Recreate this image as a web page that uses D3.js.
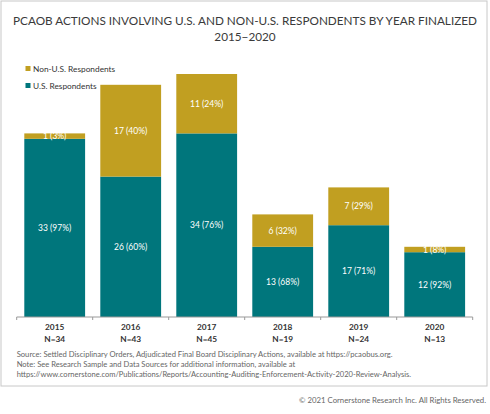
<!DOCTYPE html>
<html><head><meta charset="utf-8">
<script src="https://cdn.jsdelivr.net/npm/d3@7"></script>
<style>
html,body{margin:0;padding:0;background:#fff;}
svg{display:block;font-family:Lato,"Open Sans",sans-serif;}
</style></head>
<body>
<svg id="c" width="490" height="414"></svg>
<script>
const years = ["2015","2016","2017","2018","2019","2020"];
const totals = [34,43,45,19,24,13];
const usValues = [33,26,34,13,17,12];
const nonUsValues = [1,17,11,6,7,1];
const usPct = [97,60,76,68,71,92];
const nonUsPct = [3,40,24,32,29,8];
const seriesNames = ["Non-U.S. Respondents","U.S. Respondents"];
const colors = {us:"#00767C", nonUs:"#C19F21"};
const titleLines = ["PCAOB ACTIONS INVOLVING U.S. AND NON-U.S. RESPONDENTS BY YEAR FINALIZED","2015\u22122020"];
const sourceLines = [
 "Source: Settled Disciplinary Orders, Adjudicated Final Board Disciplinary Actions, available at https://pcaobus.org.",
 "Note: See Research Sample and Data Sources for additional information, available at",
 "https://www.cornerstone.com/Publications/Reports/Accounting-Auditing-Enforcement-Activity-2020-Review-Analysis."
];
const copyright = "\u00A9 2021 Cornerstone Research Inc. All Rights Reserved.";

const svg = d3.select("#c");
const data = years.map((y,i)=>({year:y,total:totals[i],us:usValues[i],nonUs:nonUsValues[i],usPct:usPct[i],nonUsPct:nonUsPct[i]}));

// frame
svg.append("rect").attr("x",1).attr("y",1).attr("width",486).attr("height",385)
  .attr("fill","none").attr("stroke","#c8c8c8").attr("stroke-width",1);

function fit(sel, w){ let fs; sel.each(function(){ const l=this.getComputedTextLength(); fs=+d3.select(this).attr("font-size")*w/l; d3.select(this).attr("font-size", fs);}); return fs; }

// title
const t1 = svg.append("text").attr("x",245).attr("y",25).attr("text-anchor","middle")
  .attr("font-size",14).attr("font-weight",400).attr("fill","#3a3a3a").text(titleLines[0]);
const tfs = fit(t1,464);
svg.append("text").attr("x",245).attr("y",41).attr("text-anchor","middle")
  .attr("font-size",tfs).attr("font-weight",400).attr("fill","#3a3a3a").text(titleLines[1]);

const x = d3.scaleBand().domain(years).range([16.7,472.7]).paddingInner(0.2).paddingOuter(0.1);
const y = d3.scaleLinear().domain([0,50]).range([317,47]);

const stack = d3.stack().keys(["us","nonUs"])(data);
const g = svg.append("g");
stack.forEach(layer=>{
  g.selectAll(null).data(layer).join("rect")
    .attr("x",d=>x(d.data.year)).attr("width",x.bandwidth())
    .attr("y",d=>y(d[1])).attr("height",d=>y(d[0])-y(d[1]))
    .attr("fill",layer.key==="us"?colors.us:colors.nonUs);
  g.selectAll(null).data(layer).join("text")
    .attr("x",d=>x(d.data.year)+x.bandwidth()/2)
    .attr("y",d=>(y(d[0])+y(d[1]))/2+3)
    .attr("text-anchor","middle").attr("font-size",8.5).attr("fill","#fff")
    .text(d=>layer.key==="us"? `${d.data.us} (${d.data.usPct}%)` : `${d.data.nonUs} (${d.data.nonUsPct}%)`);
});

// axis
const ax = svg.append("g").attr("transform","translate(0,317)")
  .call(d3.axisBottom(x).tickSize(0).tickFormat(""));
ax.select(".domain").attr("stroke","#999").attr("d","M16.7,0H472.7");
const edges = [0,1,2,3,4,5,6].map(i=>16.7+i*x.step());
ax.selectAll(".edge").data(edges).join("line").attr("class","edge")
  .attr("x1",d=>d).attr("x2",d=>d).attr("y1",0).attr("y2",3).attr("stroke","#999");

const lab = svg.append("g");
data.forEach(d=>{
  const cx = x(d.year)+x.bandwidth()/2;
  lab.append("text").attr("x",cx).attr("y",329.5).attr("text-anchor","middle")
    .attr("font-size",8.3).attr("font-weight",700).attr("fill","#333").text(d.year);
  lab.append("text").attr("x",cx).attr("y",342).attr("text-anchor","middle")
    .attr("font-size",8.3).attr("font-weight",700).attr("fill","#333").text("N="+d.total);
});

// legend
const leg = svg.append("g");
seriesNames.forEach((n,i)=>{
  leg.append("rect").attr("x",25.5).attr("y",66+i*17).attr("width",5).attr("height",5)
    .attr("fill",i===0?colors.nonUs:colors.us);
  leg.append("text").attr("x",33).attr("y",71.5+i*17).attr("font-size",8.3).attr("fill","#333").text(n);
});

// source
const sW=[376.5,null,395];
sourceLines.forEach((s,i)=>{
  const el = svg.append("text").attr("x",16.7).attr("y",357+i*10.2).attr("font-size",7.6).attr("fill","#666").text(s);
  if(sW[i]) fit(el,sW[i]);
});
const cr = svg.append("text").attr("x",486).attr("y",403).attr("text-anchor","end").attr("font-size",8.2).attr("fill","#666").text(copyright);
fit(cr,187);
</script>
</body></html>
